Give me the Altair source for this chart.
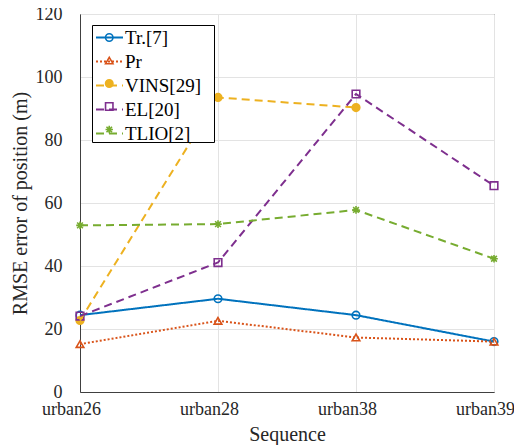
import altair as alt
import pandas as pd

sequences = ["urban26", "urban28", "urban38", "urban39"]
series_names = ["Tr.[7]", "Pr", "VINS[29]", "EL[20]", "TLIO[2]"]
tr = [24.4, 29.6, 24.4, 16.0]
pr = [15.2, 22.6, 17.3, 16.0]
vins = [22.7, 93.5, 90.3, None]
el = [24.1, 41.1, 94.6, 65.5]
tlio = [52.9, 53.3, 57.8, 42.3]

colors = ["#0072BD", "#D95319", "#EDB120", "#7E2F8E", "#77AC30"]
fills = ["transparent", "transparent", "#EDB120", "transparent", "transparent"]
dashes = [[1, 0], [2, 2], [8, 5], [8, 5], [8, 5]]
asterisk = "M0,-1L0,1M-1,0L1,0M-0.75,-0.75L0.75,0.75M-0.75,0.75L0.75,-0.75"
shapes = ["circle", "triangle-up", "circle", "square", asterisk]

rows = []
for name, vals in zip(series_names, [tr, pr, vins, el, tlio]):
    for s, v in zip(sequences, vals):
        if v is not None:
            rows.append({"seq": s, "series": name, "value": v})
df = pd.DataFrame(rows)

# marker legend uses a distinct domain so it is not merged with the line legend
marker_names = [n + "_m" for n in series_names]

FONT = "Liberation Serif"

x_enc = alt.X(
    "seq:N",
    sort=sequences,
    scale=alt.Scale(type="point", padding=0),
    axis=alt.Axis(title="Sequence", labelAngle=0, grid=True, ticks=False,
                  labelPadding=8, titlePadding=6, labelOffset=-9,
                  labelFont=FONT, titleFont=FONT, labelFontSize=18, titleFontSize=20),
)
y_enc = alt.Y(
    "value:Q",
    scale=alt.Scale(domain=[0, 120], nice=False),
    axis=alt.Axis(title="RMSE error of position (m)", values=[0, 20, 40, 60, 80, 100, 120],
                  ticks=False, labelPadding=18, titlePadding=5,
                  labelFont=FONT, titleFont=FONT, labelFontSize=18, titleFontSize=20),
)

# marker legend (drawn first, carries the white box)
leg_marks = alt.Legend(orient="none", legendX=12, legendY=11, title=None,
                       symbolSize=55, symbolStrokeWidth=1.6, symbolOffset=5.5,
                       strokeColor="black", fillColor="white",
                       padding=3, rowPadding=4, clipHeight=19,
                       labelFontSize=17.5, labelFont=FONT, labelColor="transparent", labelOffset=0)
# line legend (drawn on top, no box)
leg_lines = alt.Legend(orient="none", legendX=12, legendY=11, title=None,
                       symbolType="stroke", symbolSize=729, symbolStrokeWidth=2,
                       padding=3, rowPadding=4, clipHeight=19,
                       labelFontSize=19, labelFont=FONT, labelColor="black", labelOffset=1)

points = alt.Chart(df).transform_calculate(series2="datum.series + '_m'").mark_point(
    size=58, strokeWidth=1.6, opacity=1, filled=False
).encode(
    x=x_enc, y=y_enc,
    color=alt.Color("series2:N", scale=alt.Scale(domain=marker_names, range=colors), legend=leg_marks),
    fill=alt.Fill("series2:N", scale=alt.Scale(domain=marker_names, range=fills), legend=leg_marks),
    shape=alt.Shape("series2:N", scale=alt.Scale(domain=marker_names, range=shapes), legend=leg_marks),
)

lines = alt.Chart(df).mark_line(strokeWidth=2).encode(
    x=x_enc, y=y_enc,
    stroke=alt.Stroke("series:N", scale=alt.Scale(domain=series_names, range=colors), legend=leg_lines),
    strokeDash=alt.StrokeDash("series:N", scale=alt.Scale(domain=series_names, range=dashes), legend=leg_lines),
)

chart = alt.layer(points, lines).properties(
    width=414, height=378,
    autosize=alt.AutoSizeParams(type="none"),
    padding={"left": 72, "top": 6, "right": 20, "bottom": 56},
).configure(font=FONT).configure_view(stroke="#404040", strokeWidth=1).configure_axis(
    labelFont=FONT, titleFont=FONT, labelFontSize=18, titleFontSize=20,
    titleFontWeight="normal", labelColor="#262626", titleColor="#262626",
    domainColor="#404040", gridColor="#e3e3e3", gridWidth=1,
)

chart.save("out.html", embed_options={"renderer": "svg", "actions": False})
